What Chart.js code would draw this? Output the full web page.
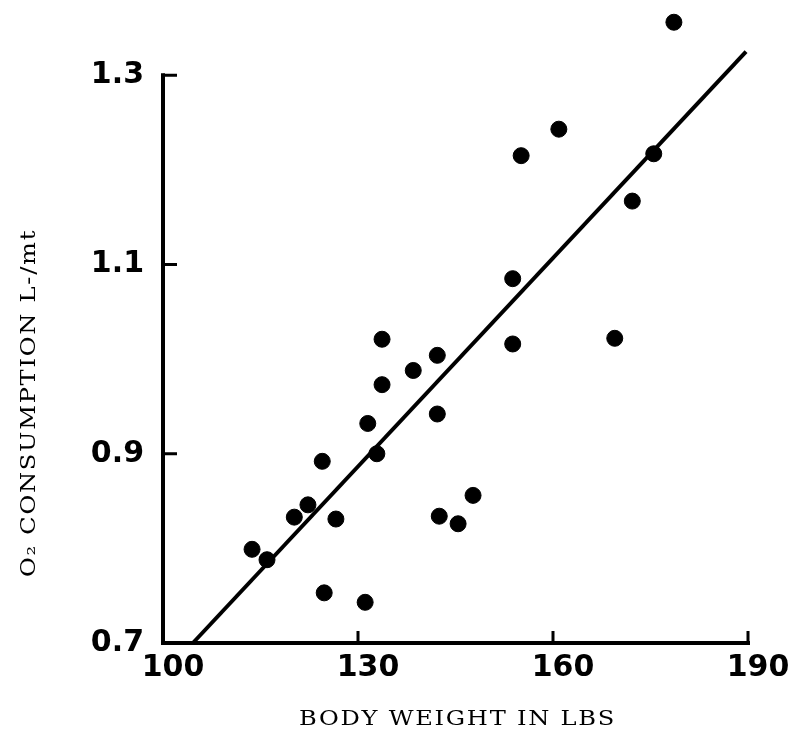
<!DOCTYPE html>
<html>
<head>
<meta charset="utf-8">
<script src="https://cdn.jsdelivr.net/npm/chart.js@4"></script>
<style>
  html, body { margin: 0; padding: 0; background: #fff; }
  #chart { display: block; }
</style>
</head>
<body>
<canvas id="chart" width="788" height="734"></canvas>
<script>
"use strict";
/* O2 consumption vs body weight: scatter + fitted line, hand-drawn style axes. */

const xTickValues = [100, 130, 160, 190];
const xTickLabels = ["100", "130", "160", "190"];
const yTickValues = [0.7, 0.9, 1.1, 1.3];
const yTickLabels = ["0.7", "0.9", "1.1", "1.3"];

const xTitle = "BODY WEIGHT IN LBS";
const yTitle = "O\u2082 CONSUMPTION L-/mt";

// readings (lbs, L/min)
const bodyWeight = [
  178.6, 160.9, 155.1, 175.5, 172.2, 153.8, 169.5, 153.8, 133.7,
  142.2, 138.5, 133.7, 142.2, 131.5, 132.9, 124.5, 147.7, 122.3,
  120.2, 126.6, 142.5, 145.4, 113.7, 116.0, 124.8, 131.1
];
const o2Consumption = [
  1.356, 1.243, 1.215, 1.217, 1.167, 1.085, 1.022, 1.016, 1.021,
  1.004, 0.988, 0.973, 0.942, 0.932, 0.900, 0.892, 0.856, 0.846,
  0.833, 0.831, 0.834, 0.826, 0.799, 0.788, 0.753, 0.743
];

// fitted line end points
const fitX = [104.6, 189.7];
const fitY = [0.700, 1.325];

const xMin = 100, xMax = 190, yMin = 0.7, yMax = 1.37;

const points = bodyWeight.map((w, i) => ({ x: w, y: o2Consumption[i] }));
const fitLine = fitX.map((w, i) => ({ x: w, y: fitY[i] }));

const tickFont = { family: "'DejaVu Sans', sans-serif", size: 30, weight: "bold" };

/* axis lines, inward ticks and axis titles */
const handAxes = {
  id: "handAxes",
  beforeDatasetsDraw(chart) {
    const { ctx, scales: { x, y } } = chart;
    const x0 = x.getPixelForValue(xTickValues[0]);
    const x1 = x.getPixelForValue(xTickValues[xTickValues.length - 1]);
    const y0 = y.getPixelForValue(yTickValues[0]);
    const y1 = y.getPixelForValue(yTickValues[yTickValues.length - 1]);
    ctx.save();
    ctx.strokeStyle = "#000";
    ctx.lineWidth = 4;
    ctx.lineCap = "square";
    ctx.beginPath();
    ctx.moveTo(x0, y1); ctx.lineTo(x0, y0); ctx.lineTo(x1, y0);
    ctx.stroke();
    ctx.lineWidth = 3;
    ctx.lineCap = "butt";
    ctx.beginPath();
    yTickValues.slice(1).forEach((v) => {
      const py = y.getPixelForValue(v);
      ctx.moveTo(x0, py); ctx.lineTo(x0 + 14, py);
    });
    xTickValues.slice(1).forEach((v) => {
      const px = x.getPixelForValue(v);
      ctx.moveTo(px, y0); ctx.lineTo(px, y0 - 12);
    });
    ctx.stroke();

    // titles: wide serif face, stretched a little along the text
    ctx.fillStyle = "#000";
    ctx.font = "21px 'DejaVu Serif', serif";
    ctx.letterSpacing = "1.5px";
    ctx.textAlign = "center";
    ctx.textBaseline = "middle";
    ctx.save();
    ctx.translate((x0 + x1) / 2 + 2, 720);
    ctx.scale(1.15, 1);
    ctx.fillText(xTitle, 0, 0);
    ctx.restore();
    ctx.translate(30, 403);
    ctx.rotate(-Math.PI / 2);
    ctx.scale(1.15, 1);
    ctx.fillText(yTitle, 0, 0);
    ctx.restore();
  }
};

new Chart(document.getElementById("chart"), {
  type: "scatter",
  data: {
    datasets: [
      {
        label: "subjects",
        data: points,
        backgroundColor: "#000",
        borderColor: "#000",
        pointRadius: 8,
        pointHoverRadius: 8,
        clip: false
      },
      {
        type: "line",
        label: "fit",
        data: fitLine,
        borderColor: "#000",
        borderWidth: 4,
        pointRadius: 0,
        fill: false,
        clip: false
      }
    ]
  },
  options: {
    responsive: false,
    animation: false,
    layout: { padding: { top: 6, right: 40, left: 0, bottom: 0 } },
    plugins: { legend: { display: false }, tooltip: { enabled: false } },
    scales: {
      x: {
        type: "linear", min: xMin, max: xMax,
        grid: { display: false, drawTicks: false },
        border: { display: false },
        afterBuildTicks: (s) => { s.ticks = xTickValues.map((v) => ({ value: v })); },
        afterFit: (s) => { s.height = 91; s.paddingLeft = 0; s.paddingRight = 0; },
        ticks: {
          color: "#000", font: tickFont, padding: 7, labelOffset: 10,
          maxRotation: 0, autoSkip: false,
          callback: (v) => xTickLabels[xTickValues.indexOf(v)]
        }
      },
      y: {
        type: "linear", min: yMin, max: yMax,
        grid: { display: false, drawTicks: false },
        border: { display: false },
        afterBuildTicks: (s) => { s.ticks = yTickValues.map((v) => ({ value: v })); },
        afterFit: (s) => { s.width = 163; s.paddingTop = 0; s.paddingBottom = 0; },
        ticks: {
          color: "#000", font: tickFont, padding: 19, autoSkip: false,
          callback: (v) => yTickLabels[yTickValues.findIndex((t) => Math.abs(t - v) < 1e-9)]
        }
      }
    }
  },
  plugins: [handAxes]
});
</script>
</body>
</html>
